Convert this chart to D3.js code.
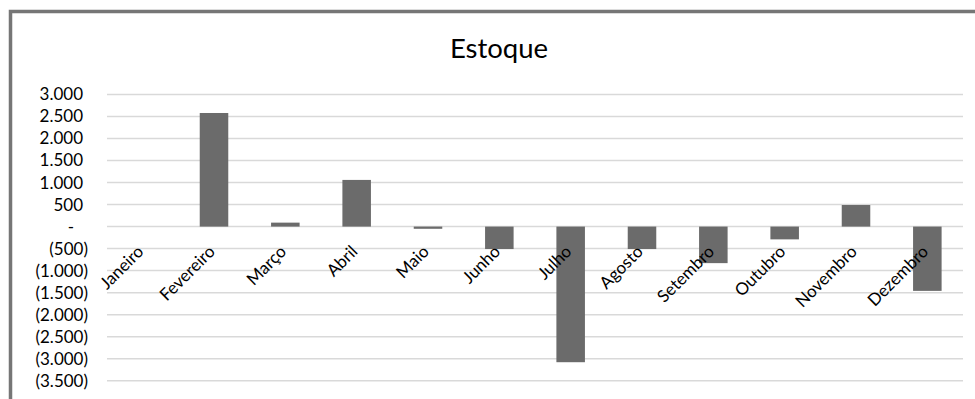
<!DOCTYPE html>
<html>
<head>
<meta charset="utf-8">
<script src="https://cdn.jsdelivr.net/npm/d3@7"></script>
<style>
  body { margin: 0; background: #fff; }
  text { font-family: Lato, "Open Sans", sans-serif; fill: #000; }
</style>
</head>
<body>
<div id="chart"></div>
<script>
const months = ["Janeiro", "Fevereiro", "Março", "Abril", "Maio", "Junho",
    "Julho", "Agosto", "Setembro", "Outubro", "Novembro", "Dezembro"];
const estoque = [0, 2580, 90, 1060, -50, -510, -3080, -510, -830, -290, 490, -1460];
const yTicks = [3000, 2500, 2000, 1500, 1000, 500, 0, -500, -1000, -1500, -2000, -2500, -3000, -3500];

function drawEstoque(containerId) {
    const width = 975;
    const height = 399;
    const margin = { left: 107, right: 12, top: 94.5, bottom: 18.3 };

    const svg = d3.select(`#${containerId}`)
        .append("svg")
        .attr("width", width)
        .attr("height", height);

    // chart frame (right and bottom edges are cut off in the original)
    svg.append("path")
        .attr("d", `M10.5,${height + 5} V11.5 H${width + 5}`)
        .attr("fill", "none")
        .attr("stroke", "#767676")
        .attr("stroke-width", 3.5);

    const x = d3.scaleBand()
        .domain(months)
        .range([margin.left, width - margin.right])
        .paddingInner(0.6)
        .paddingOuter(0.3);

    const y = d3.scaleLinear()
        .domain([-3500, 3000])
        .range([height - margin.bottom, margin.top]);

    // gridlines
    svg.append("g")
        .selectAll("line")
        .data(yTicks)
        .join("line")
        .attr("x1", margin.left)
        .attr("x2", width - margin.right)
        .attr("y1", d => y(d))
        .attr("y2", d => y(d))
        .attr("stroke", "#d9d9d9")
        .attr("stroke-width", 1.5);

    // y labels, accounting style
    const fmt = d3.formatLocale({ decimal: ",", thousands: ".", grouping: [3], currency: ["", ""] }).format(",.0f");
    svg.append("g")
        .selectAll("text")
        .data(yTicks)
        .join("text")
        .attr("x", d => d > 0 ? 83 : (d < 0 ? 88 : 71))
        .attr("y", d => y(d))
        .attr("dy", "0.35em")
        .attr("text-anchor", d => d === 0 ? "middle" : "end")
        .style("font-size", "17px")
        .text(d => d > 0 ? fmt(d) : (d < 0 ? `(${fmt(-d)})` : "-"));

    // bars
    svg.append("g")
        .selectAll("rect")
        .data(months.map((m, i) => ({ m, v: estoque[i] })))
        .join("rect")
        .attr("x", d => x(d.m))
        .attr("width", x.bandwidth())
        .attr("y", d => y(Math.max(0, d.v)))
        .attr("height", d => Math.abs(y(d.v) - y(0)))
        .attr("fill", "#6b6b6b");

    // category labels, rotated
    svg.append("g")
        .selectAll("text")
        .data(months)
        .join("text")
        .attr("transform", d => `translate(${x(d) + x.bandwidth() / 2 + 2},${y(0) + 26}) rotate(-45)`)
        .attr("text-anchor", "end")
        .style("font-size", "17px")
        .text(d => d);

    // title
    svg.append("text")
        .attr("x", 499)
        .attr("y", 58)
        .attr("text-anchor", "middle")
        .style("font-size", "27.5px")
        .text("Estoque");
}

drawEstoque("chart");
</script>
</body>
</html>
